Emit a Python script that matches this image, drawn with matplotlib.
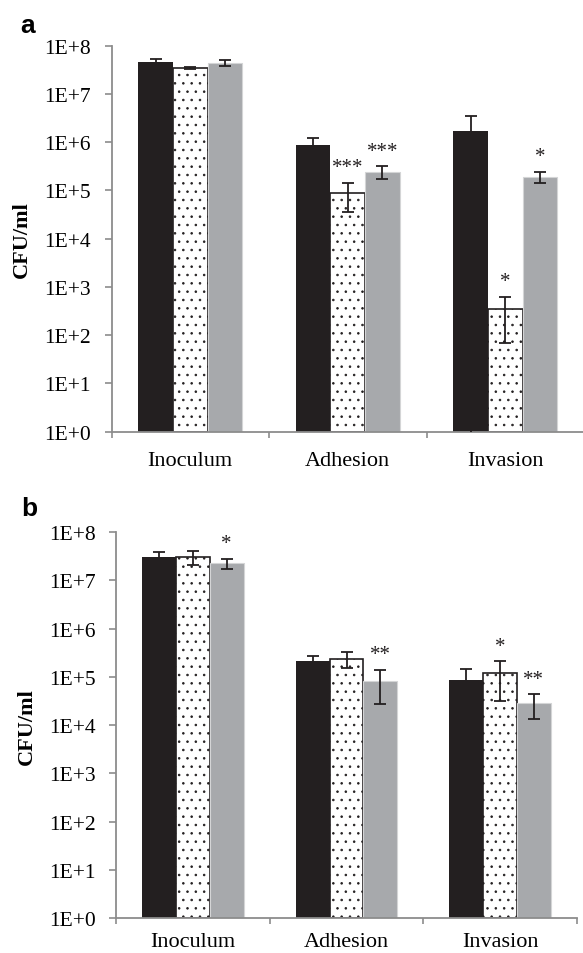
import matplotlib
matplotlib.use("Agg")
import matplotlib.pyplot as plt
import numpy as np

# ---- data ----
categories = ["Inoculum", "Adhesion", "Invasion"]
ytick_labels = ["1E+0", "1E+1", "1E+2", "1E+3", "1E+4", "1E+5", "1E+6", "1E+7", "1E+8"]

a_black = [4.6e7, 8.7e5, 1.75e6]
a_black_err = [7e6, 3.8e5, 1.8e6]
a_dotted = [3.44e7, 8.9e4, 350]
a_dotted_err = [1.5e6, 5.3e4, 280]
a_gray = [4.4e7, 2.47e5, 1.91e5]
a_gray_err = [6.5e6, 7e4, 4.8e4]
# (series, category, mark)
a_stars = [(1, 1, "***"), (2, 1, "***"), (1, 2, "*"), (2, 2, "*")]

b_black = [3.12e7, 2.11e5, 8.8e4]
b_black_err = [7e6, 6e4, 6e4]
b_dotted = [3.12e7, 2.39e5, 1.21e5]
b_dotted_err = [1e7, 8.5e4, 9e4]
b_gray = [2.27e7, 8.4e4, 2.85e4]
b_gray_err = [5e6, 5.6e4, 1.5e4]
b_stars = [(2, 0, "*"), (2, 1, "**"), (1, 2, "*"), (2, 2, "**")]

# ---- style ----
SERIF = "Liberation Serif"
BLACK = "#231f20"
GRAY = "#a7a9ac"
AXIS = "#8c8c8c"
plt.rcParams["hatch.linewidth"] = 0.6

W = 0.22
fig = plt.figure(figsize=(5.83, 9.54), dpi=100)


def panel(rect, series, errs, stars, letter, letter_pos, ylab_x, xpad):
    ax = fig.add_axes(rect)
    ax.set_yscale("log")
    x = np.arange(len(categories))
    styles = [
        dict(color=BLACK, edgecolor=BLACK, linewidth=0),
        dict(color="white", edgecolor=BLACK, linewidth=1.2, hatch=".."),
        dict(color=GRAY, edgecolor="#d4d5d6", linewidth=0.8),
    ]
    for i, (vals, err) in enumerate(zip(series, errs)):
        xs = x + (i - 1) * W
        ax.bar(xs, vals, W, bottom=1, zorder=2, **styles[i])
        ax.errorbar(xs, vals, yerr=err, fmt="none", ecolor=BLACK,
                    elinewidth=1.3, capsize=4, capthick=1.3, zorder=3)
    for s, c, mark in stars:
        top = series[s][c] + errs[s][c]
        ax.annotate(mark, xy=(x[c] + (s - 1) * W, top), xytext=(0, 11),
                    textcoords="offset points", ha="center", va="center",
                    fontsize=15, family=SERIF, color=BLACK)

    ax.set_ylim(1, 1e8)
    ax.set_xlim(-0.5, 2.5)
    ax.set_yticks([10.0 ** k for k in range(9)])
    ax.set_yticklabels(ytick_labels, family=SERIF, fontsize=15.5)
    ax.minorticks_off()
    ax.set_xticks(x)
    ax.set_xticklabels(categories, family=SERIF, fontsize=16)
    ax.set_xticks([-0.5, 0.5, 1.5, 2.5], minor=True)
    ax.tick_params(axis="x", which="major", length=0, pad=xpad)
    ax.tick_params(axis="x", which="minor", length=4.5, width=1.2,
                   color=AXIS, direction="out")
    ax.tick_params(axis="y", length=4.8, width=1.2, color=AXIS, pad=10)
    for side in ("top", "right"):
        ax.spines[side].set_visible(False)
    for side in ("left", "bottom"):
        ax.spines[side].set_color(AXIS)
        ax.spines[side].set_linewidth(1.3)

    y_mid = rect[1] + rect[3] / 2
    fig.text(ylab_x, y_mid, "CFU/ml", rotation=90, ha="center", va="center",
             family=SERIF, fontsize=16, fontweight="bold")
    fig.text(letter_pos[0], letter_pos[1], letter, ha="left", va="baseline",
             family="Liberation Sans", fontsize=19, fontweight="bold")
    return ax


panel([0.1913, 0.5464, 0.8105, 0.4046],
      [a_black, a_dotted, a_gray], [a_black_err, a_dotted_err, a_gray_err],
      a_stars, "a", (0.034, 1 - 33 / 954), 0.037, 14)
panel([0.199, 0.0367, 0.7907, 0.4043],
      [b_black, b_dotted, b_gray], [b_black_err, b_dotted_err, b_gray_err],
      b_stars, "b", (0.036, 1 - 516.5 / 954), 0.046, 10)

fig.savefig("out.png", dpi=100, facecolor="white")
